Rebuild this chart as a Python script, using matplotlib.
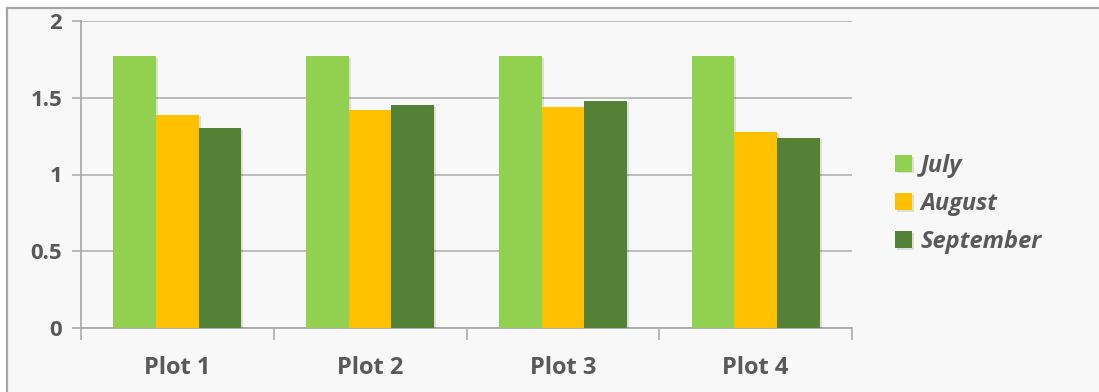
import matplotlib
matplotlib.use("Agg")
import matplotlib.pyplot as plt
import matplotlib.patheffects as pe
from matplotlib.patches import Rectangle
from matplotlib.lines import Line2D
import numpy as np

categories = ["Plot 1", "Plot 2", "Plot 3", "Plot 4"]
series_names = ["July", "August", "September"]
july = [1.77, 1.77, 1.77, 1.77]
august = [1.39, 1.42, 1.44, 1.28]
september = [1.30, 1.45, 1.48, 1.24]
colors = ["#92d050", "#ffc000", "#538135"]
y_ticks = [0, 0.5, 1, 1.5, 2]
y_tick_labels = ["0", "0.5", "1", "1.5", "2"]

text_color = "#595959"
line_color = "#a6a6a6"
font = "Open Sans"

W, H = 1099, 392
fig = plt.figure(figsize=(W / 100, H / 100), dpi=100, facecolor="white")

# chart area background with a frame along its top and left edges
fx0, fy1 = 7 / W, (H - 8) / H
fig.patches.append(Rectangle((fx0, 0), 1 - fx0, fy1, transform=fig.transFigure,
                             facecolor="#f8f8f8", edgecolor="none", zorder=-10))
fig.lines.append(Line2D([fx0, 1], [fy1, fy1], transform=fig.transFigure,
                        color="#a6a6a6", linewidth=1.6, zorder=-5))
fig.lines.append(Line2D([fx0, fx0], [0, fy1], transform=fig.transFigure,
                        color="#a6a6a6", linewidth=1.6, zorder=-5))

ax = fig.add_axes([81 / W, 64 / H, 771 / W, 307 / H])
ax.set_facecolor("none")

x = np.arange(len(categories))
width = 0.221
shadow = [pe.SimplePatchShadow(offset=(1.5, -1), alpha=0.10, shadow_rgbFace="#000000"),
          pe.Normal()]
for i, (vals, name) in enumerate(zip([july, august, september], series_names)):
    bars = ax.bar(x + (i - 1) * width, vals, width=width, color=colors[i],
                  label=name, zorder=3)
    for b in bars:
        b.set_path_effects(shadow)

ax.set_xlim(-0.5, len(categories) - 0.5)
ax.set_ylim(0, 2)
ax.set_yticks(y_ticks)
ax.set_yticklabels(y_tick_labels)
ax.yaxis.grid(True, color="#b3b3b3", linewidth=1.2, zorder=0)
ax.set_axisbelow(True)

ax.set_xticks(x)
ax.set_xticklabels(categories)
ax.set_xticks(np.arange(-0.5, len(categories), 1.0), minor=True)
ax.tick_params(axis="x", which="major", length=0, pad=20)
ax.tick_params(axis="x", which="minor", length=8.6, width=1.1, color=line_color, direction="out")
ax.tick_params(axis="y", length=6.5, width=1.1, color=line_color, direction="out", pad=7)

for lab in ax.get_xticklabels():
    lab.set_fontfamily(font)
    lab.set_fontweight("bold")
    lab.set_fontsize(17)
    lab.set_color(text_color)
for lab in ax.get_yticklabels():
    lab.set_fontfamily(font)
    lab.set_fontweight("bold")
    lab.set_fontsize(16)
    lab.set_color(text_color)

for side in ["top", "right"]:
    ax.spines[side].set_visible(False)
for side in ["left", "bottom"]:
    ax.spines[side].set_color(line_color)
    ax.spines[side].set_linewidth(1.2)

leg = ax.legend(loc="center left", bbox_to_anchor=(1.056, 0.404), frameon=False,
                prop={"family": font, "weight": "bold", "style": "italic", "size": 17},
                handlelength=0.72, handleheight=0.72, handletextpad=0.35,
                labelspacing=0.6, borderaxespad=0, borderpad=0)
for t in leg.get_texts():
    t.set_color(text_color)

fig.savefig("out.png", dpi=100, facecolor=fig.get_facecolor())
